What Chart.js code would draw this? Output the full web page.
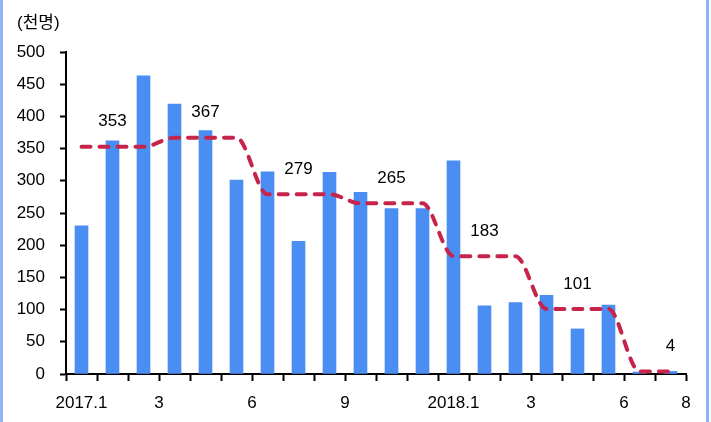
<!DOCTYPE html>
<html>
<head>
<meta charset="utf-8">
<script src="https://cdn.jsdelivr.net/npm/chart.js@4/dist/chart.umd.min.js"></script>
<style>
  body { margin: 0; background: #fff; }
  .wrap { position: relative; width: 711px; height: 422px; }
  .edge { position: absolute; top: 0; bottom: 0; width: 3px; background: #8db6f0; }
</style>
</head>
<body>
<div class="wrap">
  <canvas id="chart"></canvas>
  <div class="edge" style="left:0"></div>
  <div class="edge" style="right:2px"></div>
</div>
<script>
// monthly, 2017.1 ~ 2018.8
const months = ['2017.1','2017.2','2017.3','2017.4','2017.5','2017.6','2017.7','2017.8','2017.9','2017.10','2017.11','2017.12',
                '2018.1','2018.2','2018.3','2018.4','2018.5','2018.6','2018.7','2018.8'];
const monthly = [230, 362, 463, 419, 378, 301, 314, 206, 313, 282, 257, 257, 331, 106, 111, 122, 70, 107, 3, 4];
const quarterAvg = [353, 353, 353, 367, 367, 367, 279, 279, 279, 265, 265, 265, 183, 183, 183, 101, 101, 101, 4, 4];
const avgLabelIdx = [1, 4, 7, 10, 13, 16, 19];

const xTickPos = [0.5, 3, 6, 9, 12.5, 15, 18, 20];
const xTickText = ['2017.1', '3', '6', '9', '2018.1', '3', '6', '8'];

const FONT = '"Liberation Sans", Arial, "Noto Sans CJK KR", sans-serif';

// every month boundary gets a tick mark, plus the two year labels at month centres
const xTickVals = [];
for (let i = 0; i <= months.length; i++) xTickVals.push(i);
xTickVals.push(0.5, 12.5);
xTickVals.sort((a, b) => a - b);

const labelPlugin = {
    id: 'labels',
    afterDatasetsDraw(chart) {
        const ctx = chart.ctx;
        const xs = chart.scales.x, ys = chart.scales.y;
        ctx.save();
        ctx.fillStyle = '#000';
        ctx.font = '17px ' + FONT;
        ctx.textBaseline = 'middle';
        ctx.textAlign = 'left';
        ctx.fillText('(천명)', 17, 23);
        ctx.textAlign = 'center';
        avgLabelIdx.forEach(i => {
            const x = xs.getPixelForValue(i + 0.5);
            const y = ys.getPixelForValue(quarterAvg[i]) - 25;
            ctx.fillText(String(quarterAvg[i]), x, y);
        });
        ctx.restore();
    }
};

const config = {
    type: 'bar',
    data: {
        datasets: [
            {
                type: 'line',
                label: '분기 평균',
                data: quarterAvg.map((v, i) => ({ x: i + 0.5, y: v })),
                borderColor: '#c6244a',
                borderWidth: 4,
                borderDash: [9, 9],
                borderCapStyle: 'round',
                pointRadius: 0,
                cubicInterpolationMode: 'monotone',
                fill: false,
                order: 0
            },
            {
                label: '월별',
                data: monthly.map((v, i) => ({ x: i + 0.5, y: v })),
                backgroundColor: '#4a8ef3',
                barThickness: 13,
                order: 1
            }
        ]
    },
    options: {
        responsive: true,
        maintainAspectRatio: false,
        animation: false,
        layout: { padding: { left: 0, top: 52, right: 25, bottom: 0 } },
        plugins: {
            legend: { display: false },
            tooltip: { enabled: false }
        },
        scales: {
            x: {
                type: 'linear',
                offset: false,
                min: 0,
                max: months.length,
                afterBuildTicks: scale => {
                    scale.ticks = xTickVals.map(v => ({ value: v }));
                },
                afterFit: scale => { scale.height = 48; },
                ticks: {
                    autoSkip: false,
                    maxRotation: 0,
                    padding: 12,
                    color: '#000',
                    font: { size: 17, family: FONT },
                    callback: v => {
                        const k = xTickPos.indexOf(v);
                        return k >= 0 ? xTickText[k] : '';
                    }
                },
                grid: {
                    offset: false,
                    drawOnChartArea: false,
                    tickLength: 7,
                    tickWidth: 2,
                    tickColor: xTickVals.map(v => Number.isInteger(v) ? '#000' : 'rgba(0,0,0,0)')
                },
                border: { color: '#000', width: 2 }
            },
            y: {
                min: 0,
                max: 500,
                afterFit: scale => { scale.width = 66; },
                ticks: {
                    stepSize: 50,
                    padding: 15,
                    color: '#000',
                    font: { size: 17, family: FONT }
                },
                grid: {
                    drawOnChartArea: false,
                    tickLength: 6,
                    tickWidth: 2,
                    tickColor: '#000'
                },
                border: { color: '#000', width: 2 }
            }
        }
    },
    plugins: [labelPlugin]
};

new Chart(document.getElementById('chart'), config);
</script>
</body>
</html>
